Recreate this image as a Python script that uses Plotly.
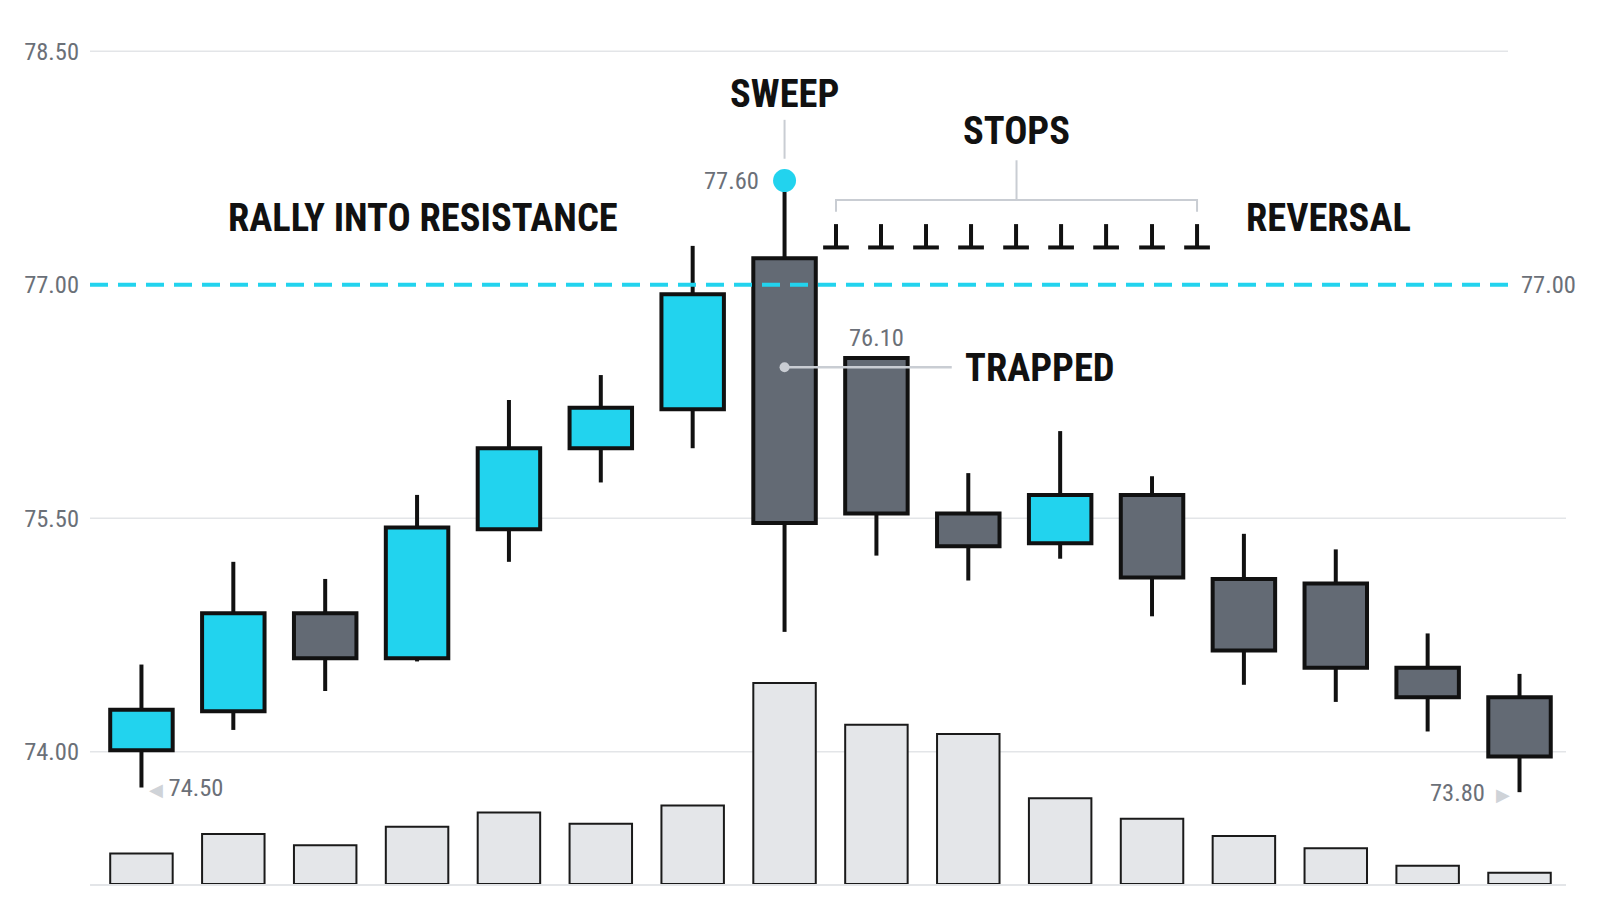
import plotly.graph_objects as go

# ---------------- data ----------------
idx = list(range(16))
opens  = [74.01, 74.26, 74.89, 74.60, 75.43, 75.95, 76.20, 77.17, 76.53, 75.53, 75.34, 75.65, 75.11, 75.08, 74.54, 74.35]
highs  = [74.56, 75.22, 75.11, 75.65, 76.26, 76.42, 77.25, 77.67, 76.53, 75.79, 76.06, 75.77, 75.40, 75.30, 74.76, 74.50]
lows   = [73.77, 74.14, 74.39, 74.58, 75.22, 75.73, 75.95, 74.77, 75.26, 75.10, 75.24, 74.87, 74.43, 74.32, 74.13, 73.74]
closes = [74.27, 74.89, 74.60, 75.44, 75.95, 76.21, 76.94, 75.47, 75.53, 75.32, 75.65, 75.12, 74.65, 74.54, 74.35, 73.97]
volumes = [30, 49, 38, 56, 70, 59, 77, 197, 156, 147, 84, 64, 47, 35, 18, 11]

resistance = 77.00
grid_levels = [78.50, 75.50, 74.00]
tick_vals = [74.00, 75.50, 77.00, 78.50]
tick_text = ["74.00", "75.50", "77.00", "78.50"]

sweep_idx = 7
trap_idx = 8
stops_x = [7.56, 8.05, 8.54, 9.03, 9.52, 10.01, 10.50, 11.00, 11.49]
stop_top, stop_base = 77.39, 77.24

# ---------------- styles ----------------
CYAN = "#22d3ee"
GRAY = "#636a74"
VOL = "#e4e6e9"
INK = "#111111"
LABEL = "#6b7078"
LIGHT = "#c9cdd3"
HEAD = "Roboto Condensed, Liberation Sans Narrow, Arial Narrow, sans-serif"
SMALL = "Roboto Condensed, Roboto, sans-serif"
NOHOVER = dict(hoverinfo="skip", showlegend=False)
X0, X1 = -0.56, 15.506
LINE_END = 14.875

fig = go.Figure()

# volume bars (secondary axis)
fig.add_trace(go.Bar(
    x=idx, y=volumes, yaxis="y2", width=0.68,
    marker=dict(color=VOL, line=dict(color="#1a1a1a", width=2)), **NOHOVER))

# bodies
base = [min(o, c) for o, c in zip(opens, closes)]
height = [abs(c - o) for o, c in zip(opens, closes)]
colors = [CYAN if c >= o else GRAY for o, c in zip(opens, closes)]
fig.add_trace(go.Bar(
    x=idx, y=height, base=base, width=0.68,
    marker=dict(color=colors, line=dict(color=INK, width=4)), **NOHOVER))

# wicks (upper and lower segments outside the body)
wx, wy = [], []
for i, o, h, l, c in zip(idx, opens, highs, lows, closes):
    top, bot = max(o, c), min(o, c)
    if h > top:
        wx += [i, i, None]
        wy += [top, h, None]
    if l < bot:
        wx += [i, i, None]
        wy += [l, bot, None]
fig.add_trace(go.Scatter(x=wx, y=wy, mode="lines",
                         line=dict(color=INK, width=4), **NOHOVER))

# stop markers (inverted T)
sx, sy = [], []
for x in stops_x:
    sx += [x, x, None, x - 0.14, x + 0.14, None]
    sy += [stop_top, stop_base, None, stop_base, stop_base, None]
fig.add_trace(go.Scatter(x=sx, y=sy, mode="lines",
                         line=dict(color=INK, width=4), **NOHOVER))

# bracket over stops
mid = (stops_x[0] + stops_x[-1]) / 2
bx = [stops_x[0], stops_x[0], stops_x[-1], stops_x[-1], None, mid, mid]
by = [77.47, 77.545, 77.545, 77.47, None, 77.545, 77.80]
fig.add_trace(go.Scatter(x=bx, y=by, mode="lines",
                         line=dict(color=LIGHT, width=2), **NOHOVER))

# sweep leader line
fig.add_trace(go.Scatter(x=[sweep_idx, sweep_idx], y=[77.81, 78.06], mode="lines",
                         line=dict(color=LIGHT, width=2), **NOHOVER))

# trapped leader line + dot
fig.add_trace(go.Scatter(x=[sweep_idx, 8.82], y=[76.47, 76.47], mode="lines",
                         line=dict(color=LIGHT, width=2.5), **NOHOVER))
fig.add_trace(go.Scatter(x=[sweep_idx], y=[76.47], mode="markers",
                         marker=dict(color=LIGHT, size=10), **NOHOVER))

# sweep dot
fig.add_trace(go.Scatter(x=[sweep_idx], y=[highs[sweep_idx]], mode="markers",
                         marker=dict(color=CYAN, size=23), **NOHOVER))

shapes = []
for lv in grid_levels:
    x1 = LINE_END if lv == 78.50 else X1
    shapes.append(dict(type="line", xref="x", yref="y", x0=X0, x1=x1, y0=lv, y1=lv,
                       line=dict(color="#e3e5e8", width=1.5), layer="below"))
shapes.append(dict(type="line", xref="x", yref="y", x0=X0, x1=LINE_END, y0=resistance, y1=resistance,
                   line=dict(color=CYAN, width=4, dash="18px,10px"), layer="above"))

HS = 38.5
annotations = [
    dict(x=3.07, y=77.43, text="<b>RALLY INTO RESISTANCE</b>", showarrow=False,
         font=dict(family=HEAD, size=HS, color=INK)),
    dict(x=sweep_idx, y=78.23, text="<b>SWEEP</b>", showarrow=False,
         font=dict(family=HEAD, size=HS, color=INK)),
    dict(x=mid, y=77.99, text="<b>STOPS</b>", showarrow=False,
         font=dict(family=HEAD, size=HS, color=INK)),
    dict(x=12.92, y=77.43, text="<b>REVERSAL</b>", showarrow=False,
         font=dict(family=HEAD, size=HS, color=INK)),
    dict(x=8.945, y=76.47, text="<b>TRAPPED</b>", showarrow=False, xanchor="left",
         font=dict(family=HEAD, size=HS, color=INK)),
    dict(x=sweep_idx, y=highs[sweep_idx], text="77.60", showarrow=False, xanchor="right",
         xshift=-24, font=dict(family=SMALL, size=24.5, color=LABEL)),
    dict(x=trap_idx, y=opens[trap_idx], text="76.10", showarrow=False, yanchor="bottom",
         yshift=4, font=dict(family=SMALL, size=24.5, color=LABEL)),
    dict(x=15.0, y=resistance, text="77.00", showarrow=False, xanchor="left", xshift=-1,
         font=dict(family=SMALL, size=24.5, color=LABEL)),
    dict(x=0, y=lows[0], text="<span style='color:#cfd3d8;font-size:18px'>◀</span> 74.50",
         showarrow=False, xanchor="left", xshift=6,
         font=dict(family=SMALL, size=24.5, color=LABEL)),
    dict(x=15, y=lows[15], text="73.80  <span style='color:#cfd3d8;font-size:18px'>▶</span>",
         showarrow=False, xanchor="right", xshift=-8,
         font=dict(family=SMALL, size=24.5, color=LABEL)),
]

fig.update_layout(
    width=1584, height=898,
    margin=dict(l=82, r=26, t=20, b=22),
    paper_bgcolor="white", plot_bgcolor="white",
    barmode="overlay", showlegend=False,
    shapes=shapes, annotations=annotations,
    xaxis=dict(range=[X0, X1], showgrid=False, zeroline=False, showticklabels=False,
               showline=True, linecolor="#e3e5e8", linewidth=1.5, ticks=""),
    yaxis=dict(range=[73.15, 78.65], tickvals=tick_vals, ticktext=tick_text, showgrid=False,
               zeroline=False, ticks="", ticklabelstandoff=10,
               tickfont=dict(family=SMALL, size=24.5, color=LABEL)),
    yaxis2=dict(range=[0, 839], overlaying="y", visible=False),
)

fig.write_html("out.html")
